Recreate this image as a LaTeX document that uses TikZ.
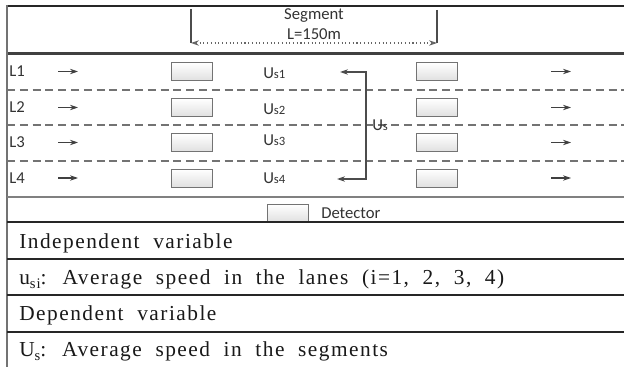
\documentclass[tikz,border=0pt]{standalone}
\usepackage{fontspec}
\setmainfont{Liberation Serif}
\newfontfamily\diagfont{Carlito}
\newfontfamily\tabfont[LetterSpace=7,WordSpace=2]{Liberation Serif}
\usetikzlibrary{arrows.meta}
\begin{document}
\begin{tikzpicture}[x=0.75pt,y=-0.75pt,
  lbl/.style={font=\diagfont\fontsize{12.5}{14}\selectfont, text=black!80, inner sep=0pt},
  det/.style={draw=black!55, top color=white, bottom color=black!12, minimum width=30.5pt, minimum height=13.2pt, inner sep=0pt},
  lanearr/.style={-{Stealth[length=6pt,width=4pt]}, draw=black!75, line width=0.8pt},
  brk/.style={draw=black!70, line width=0.8pt},
  lanedash/.style={draw=black!55, line width=0.9pt, dash pattern=on 6pt off 3.6pt},
  rule/.style={draw=black!85, line width=0.8pt},
  tabtext/.style={font=\tabfont\fontsize{16}{18}\selectfont, anchor=base west, inner sep=0pt, text=black!90}]
\useasboundingbox (0,0) rectangle (624,367);
\fill[white] (0,0) rectangle (624,367);

% frame lines
\draw[rule] (7,6) -- (624,6);
\draw[draw=black!75, line width=1.8pt] (7,53.5) -- (624,53.5);
\draw[draw=black!55, line width=0.9pt] (7,5.5) -- (7,367);

% segment bracket
\coordinate (sl) at (191,43);
\coordinate (sr) at (437,43);
\coordinate (slt) at (191,9);
\coordinate (srt) at (437,10);
\draw[brk] (slt) -- (sl);
\draw[brk] (srt) -- (sr);
\draw[draw=black!60, line width=0.8pt, dotted, {Stealth[length=6pt,width=4pt]}-{Stealth[length=6pt,width=4pt]}] (sl) -- (sr);
\node[lbl] (seg) at (314,16) {Segment};
\node[lbl] (len) at (314,34) {L=150m};

% lane separators
\draw[lanedash] (7,90) -- (624,90);
\draw[lanedash] (7,125) -- (624,125);
\draw[lanedash] (7,161) -- (624,161);
\draw[draw=black!50, line width=0.9pt] (7,197) -- (624,197);

% lanes
\foreach \i/\yy in {1/71.5, 2/107.5, 3/142.5, 4/178} {
  \node[lbl, anchor=west] (L\i) at (9,\yy) {L\i};
  \coordinate (la\i) at (58,\yy);
  \coordinate (lb\i) at (78,\yy);
  \draw[lanearr] (la\i) -- (lb\i);
  \node[det] (dl\i) at (191.5,\yy) {};
  \node[det] (dr\i) at (437,\yy) {};
  \coordinate (ra\i) at (551,\yy);
  \coordinate (rb\i) at (571,\yy);
  \draw[lanearr] (ra\i) -- (rb\i);
}
\node[lbl, anchor=west] (us1) at (263,73) {U{\fontsize{9.5}{9.5}\selectfont s1}};
\node[lbl, anchor=west] (us2) at (263,109.5) {U{\fontsize{9.5}{9.5}\selectfont s2}};
\node[lbl, anchor=west] (us3) at (263,140) {U{\fontsize{9.5}{9.5}\selectfont s3}};
\node[lbl, anchor=west] (us4) at (263,178) {U{\fontsize{9.5}{9.5}\selectfont s4}};

% Us bracket
\coordinate (bt) at (366,72);
\coordinate (bb) at (366,179);
\coordinate (at) at (340,72);
\coordinate (ab) at (337,179);
\draw[brk, {Stealth[length=6pt,width=4pt]}-{Stealth[length=6pt,width=4pt]}] (at) -- (bt) -- (bb) -- (ab);
\node[lbl, anchor=west] (us) at (372,125) {U{\fontsize{9.5}{9.5}\selectfont s}};

% legend
\node[det] (legbox) at (287.5,213) {};
\node[lbl, anchor=west] (legtxt) at (321,213) {Detector};

% table
\draw[rule] (7,222) -- (624,222);
\draw[rule] (7,259) -- (624,259);
\draw[rule] (7,295) -- (624,295);
\draw[rule] (7,332) -- (624,332);
\node[tabtext] (t1) at (19,248) {Independent variable};
\node[tabtext] (t2) at (19,284) {u\raisebox{-0.5ex}{\fontsize{11}{11}\selectfont si}: Average speed in the lanes (i=1, 2, 3, 4)};
\node[tabtext] (t3) at (19,320) {Dependent variable};
\node[tabtext] (t4) at (19,356) {U\raisebox{-0.5ex}{\fontsize{11}{11}\selectfont s}: Average speed in the segments};
\end{tikzpicture}
\end{document}
